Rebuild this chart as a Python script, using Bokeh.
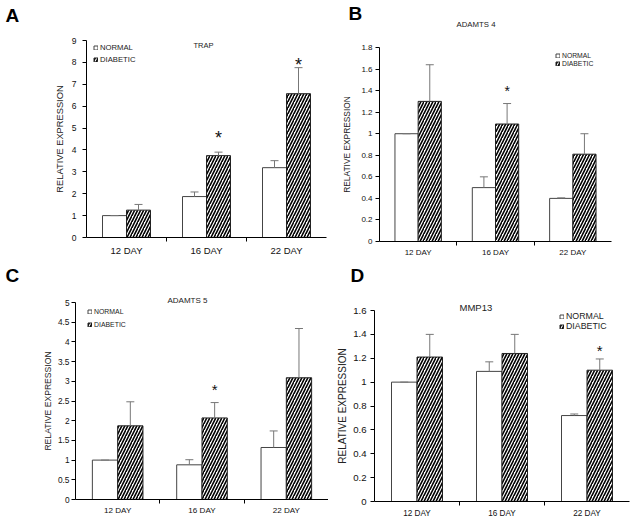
from bokeh.plotting import figure
from bokeh.models import (ColumnDataSource, Range1d, FixedTicker, Whisker, TeeHead,
                          Label, Legend, LegendItem, Title)
from bokeh.layouts import column, row
from bokeh.core.properties import value
from bokeh.embed import file_html
from bokeh.resources import INLINE

# ---------------- data ----------------
days = ["12 DAY", "16 DAY", "22 DAY"]
series = ["NORMAL", "DIABETIC"]

# A  TRAP
trap_normal = [1.0, 1.87, 3.19]
trap_normal_sem = [0.0, 0.21, 0.32]
trap_diabetic = [1.25, 3.74, 6.57]
trap_diabetic_sem = [0.26, 0.16, 1.19]
trap_sig_days = ["16 DAY", "22 DAY"]
trap_sig_y = [4.74, 8.08]
trap_yticks = [0, 1, 2, 3, 4, 5, 6, 7, 8, 9]

# B  ADAMTS 4
adamts4_normal = [1.0, 0.50, 0.40]
adamts4_normal_sem = [0.0, 0.10, 0.005]
adamts4_diabetic = [1.30, 1.09, 0.81]
adamts4_diabetic_sem = [0.34, 0.19, 0.19]
adamts4_sig_days = ["16 DAY"]
adamts4_sig_y = [1.42]
adamts4_yticks = [0, 0.2, 0.4, 0.6, 0.8, 1, 1.2, 1.4, 1.6, 1.8]

# C  ADAMTS 5
adamts5_normal = [1.0, 0.88, 1.32]
adamts5_normal_sem = [0.0, 0.13, 0.42]
adamts5_diabetic = [1.87, 2.07, 3.09]
adamts5_diabetic_sem = [0.61, 0.39, 1.25]
adamts5_sig_days = ["16 DAY"]
adamts5_sig_y = [2.87]
adamts5_yticks = [0, 0.5, 1, 1.5, 2, 2.5, 3, 3.5, 4, 4.5, 5]

# D  MMP13
mmp13_normal = [1.0, 1.09, 0.72]
mmp13_normal_sem = [0.0, 0.08, 0.013]
mmp13_diabetic = [1.21, 1.24, 1.10]
mmp13_diabetic_sem = [0.19, 0.16, 0.094]
mmp13_sig_days = ["22 DAY"]
mmp13_sig_y = [1.29]
mmp13_yticks = [0, 0.2, 0.4, 0.6, 0.8, 1, 1.2, 1.4, 1.6]

FONT = "Liberation Sans"


def caption(p, text, fs, H, valign, offset=0, bold=False):
    """Title in the band above the frame; H is the band height it takes."""
    T = 1.117 * fs
    s = H - 2 - T
    t = Title(text=text, align="left", offset=offset, vertical_align=valign, standoff=s,
              text_font=FONT, text_font_size=f"{fs}px",
              text_font_style="bold" if bold else "normal",
              text_color="black" if bold else "#222222")
    p.add_layout(t, "above")


def make_panel(letter, title, normal, normal_sem, diab, diab_sem, sig_days, sig_y, yticks, s):
    p = figure(width=s["w"], height=s["h"], x_range=Range1d(0, 3),
               y_range=Range1d(yticks[0], yticks[-1]),
               output_backend="svg", toolbar_location=None,
               min_border_left=s["bl"], min_border_right=s["br"],
               min_border_top=0, min_border_bottom=s["bb"])
    p.frame_align = False
    p.title.visible = False
    p.outline_line_color = None
    p.xgrid.visible = False
    p.ygrid.visible = False
    p.background_fill_color = "white"

    centers = [i + 0.5 for i in range(len(days))]
    xn = [c - 0.15 for c in centers]
    xd = [c + 0.15 for c in centers]
    src_n = ColumnDataSource(dict(x=xn, top=normal,
                                  upper=[a + b for a, b in zip(normal, normal_sem)]))
    src_d = ColumnDataSource(dict(x=xd, top=diab,
                                  upper=[a + b for a, b in zip(diab, diab_sem)]))
    rn = p.vbar(x="x", top="top", bottom=0, width=0.3, source=src_n,
                fill_color="white", line_color="#444444", line_width=1)
    rd = p.vbar(x="x", top="top", bottom=0, width=0.3, source=src_d,
                fill_color="white", line_color="#222222", line_width=1,
                hatch_pattern="right_diagonal_line", hatch_color="black",
                hatch_weight=1.6, hatch_scale=6)
    for src in (src_n, src_d):
        p.add_layout(Whisker(source=src, base="x", lower="top", upper="upper",
                             dimension="height", line_color="#777777", line_width=1,
                             upper_head=TeeHead(size=8, line_color="#777777", line_width=1),
                             lower_head=None, level="overlay"))

    sx = [days.index(d) + 0.5 + 0.15 for d in sig_days]
    p.text(x=sx, y=sig_y, text=["*"] * len(sx), text_align="center",
           text_baseline="middle", y_offset=s["star_off"],
           text_font=value(FONT), text_font_size=s["star_fs"], text_color="#111111")

    xa = p.xaxis[0]
    xa.axis_label = None
    xa.ticker = FixedTicker(ticks=centers, minor_ticks=[1, 2])
    xa.major_label_overrides = {c: d for c, d in zip(centers, days)}
    xa.major_tick_out = 0
    xa.major_tick_in = 0
    xa.minor_tick_out = 4
    xa.minor_tick_in = 0
    xa.minor_tick_line_color = "black"
    xa.axis_line_color = "black"
    xa.major_label_text_font = FONT
    xa.major_label_text_font_size = s["xfs"]
    xa.major_label_text_color = "#111111"
    xa.major_label_standoff = s["xstand"]

    ya = p.yaxis[0]
    ya.ticker = FixedTicker(ticks=yticks, minor_ticks=[])
    ya.major_label_overrides = {v: f"{v:g}" for v in yticks}
    ya.major_tick_out = 4
    ya.major_tick_in = 0
    ya.minor_tick_out = 0
    ya.minor_tick_in = 0
    ya.axis_line_color = "black"
    ya.major_label_text_font = FONT
    ya.major_label_text_font_size = s["yfs"]
    ya.major_label_text_color = "#111111"
    ya.major_label_standoff = s["ystand"]
    ya.axis_label = "RELATIVE EXPRESSION"
    ya.axis_label_text_font = FONT
    ya.axis_label_text_font_style = "normal"
    ya.axis_label_text_font_size = s["alfs"]
    ya.axis_label_text_color = "#222222"
    ya.axis_label_standoff = s["alstand"]

    leg = Legend(items=[LegendItem(label=series[0], renderers=[rn]),
                        LegendItem(label=series[1], renderers=[rd])],
                 location=s["leg_loc"], orientation="vertical",
                 glyph_width=5, glyph_height=5, label_standoff=2,
                 label_height=s["leg_lh"], spacing=s["leg_sp"], padding=0, margin=0,
                 border_line_color=None, background_fill_alpha=0,
                 label_text_font=FONT, label_text_font_size=s["leg_fs"],
                 label_text_color="#222222")
    p.add_layout(leg)

    # bands above the frame, nearest the frame first
    for kind, H, valign in s["bands"]:
        if kind == "title":
            caption(p, title, s["tfs"], H, valign, offset=s["title_x"])
        elif kind == "letter":
            caption(p, letter, 19, H, valign, offset=s["letter_x"], bold=True)
        else:
            caption(p, " ", 1, H, "top")
    if s.get("title_in") is not None:
        tx, ty = s["title_in"]
        p.add_layout(Label(x=tx, y=ty, x_units="screen", y_units="screen", text=title,
                           text_font=FONT, text_font_size=f"{s['tfs']}px",
                           text_align="left", text_baseline="middle", text_color="#222222"))
    return p


style_a = dict(w=328, h=262, bl=86, br=2, bb=25, xfs="9.5px", yfs="8.5px", alfs="9.3px",
               ystand=6, alstand=4, xstand=3, leg_loc=(7, 173), leg_lh=10, leg_sp=2,
               leg_fs="7.7px",
               bands=[("fill", 8, "top"), ("letter", 32, "top")],
               title_x=0, tfs=7.5, title_in=(107, 192.5), letter_x=-81,
               star_fs="18px", star_off=4)
style_b = dict(w=308, h=262, bl=51, br=25, bb=21, xfs="8px", yfs="8px", alfs="8.4px",
               ystand=3, alstand=6, xstand=2, leg_loc=(176, 174), leg_lh=8, leg_sp=0,
               leg_fs="6.8px",
               bands=[("fill", 21, "top"), ("title", 2, "top"), ("letter", 24, "bottom")],
               title_x=77, tfs=7.8, letter_x=-31,
               star_fs="14px", star_off=3)
style_c = dict(w=328, h=261, bl=75, br=0, bb=24, xfs="8.1px", yfs="8.3px", alfs="8.6px",
               ystand=2, alstand=2, xstand=2, leg_loc=(12, 171), leg_lh=8, leg_sp=5,
               leg_fs="6.9px",
               bands=[("title", 6, "bottom"), ("fill", 6, "top"), ("letter", 28, "top")],
               title_x=92, tfs=8, letter_x=-70,
               star_fs="15px", star_off=3)
style_d = dict(w=308, h=261, bl=46, br=7, bb=22, xfs="8.2px", yfs="9.6px", alfs="10px",
               ystand=4, alstand=2, xstand=3, leg_loc=(185, 170), leg_lh=10, leg_sp=0,
               leg_fs="8.8px",
               bands=[("title", 8, "bottom"), ("fill", 11, "top"), ("letter", 29, "top")],
               title_x=85, tfs=9.5, letter_x=-24,
               star_fs="15px", star_off=3)

pa = make_panel("A", "TRAP", trap_normal, trap_normal_sem, trap_diabetic, trap_diabetic_sem,
                trap_sig_days, trap_sig_y, trap_yticks, style_a)
pb = make_panel("B", "ADAMTS 4", adamts4_normal, adamts4_normal_sem, adamts4_diabetic,
                adamts4_diabetic_sem, adamts4_sig_days, adamts4_sig_y, adamts4_yticks, style_b)
pc = make_panel("C", "ADAMTS 5", adamts5_normal, adamts5_normal_sem, adamts5_diabetic,
                adamts5_diabetic_sem, adamts5_sig_days, adamts5_sig_y, adamts5_yticks, style_c)
pd = make_panel("D", "MMP13", mmp13_normal, mmp13_normal_sem, mmp13_diabetic,
                mmp13_diabetic_sem, mmp13_sig_days, mmp13_sig_y, mmp13_yticks, style_d)

layout = column(row(pa, pb), row(pc, pd))

with open("out.html", "w") as f:
    f.write(file_html(layout, INLINE))
